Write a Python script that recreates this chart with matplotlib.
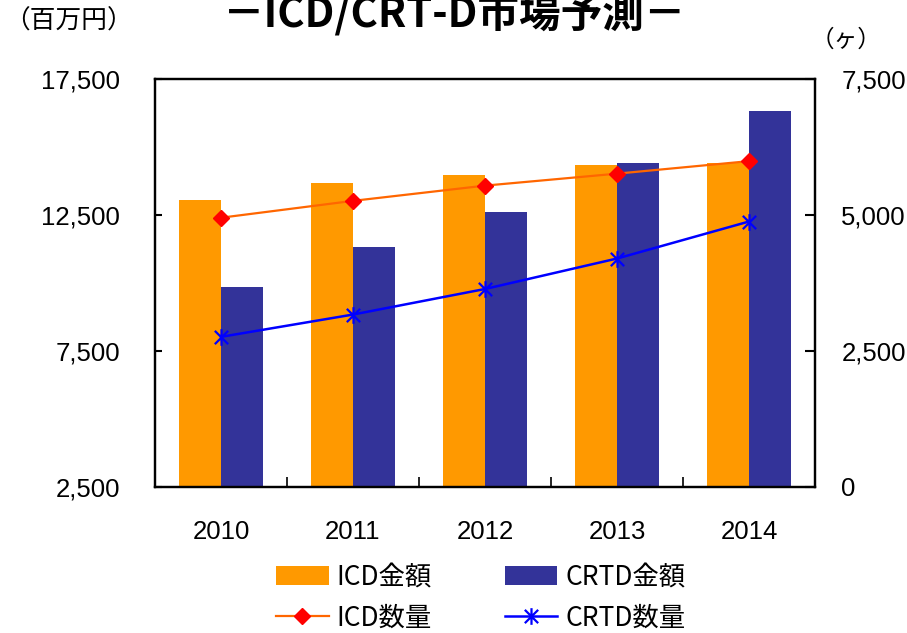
import matplotlib
matplotlib.use("Agg")
import matplotlib.pyplot as plt
import numpy as np
from matplotlib.path import Path
from matplotlib.patches import Patch
from matplotlib.lines import Line2D
from matplotlib.ticker import FuncFormatter, FixedLocator

years = ["2010", "2011", "2012", "2013", "2014"]
icd_amount = [13050, 13680, 13970, 14340, 14410]      # 百万円
crtd_amount = [9850, 11320, 12610, 14410, 16340]      # 百万円
icd_count = [4950, 5260, 5540, 5760, 5990]            # ヶ
crtd_count = [2760, 3170, 3640, 4200, 4880]           # ヶ
left_ticks = [2500, 7500, 12500, 17500]
right_ticks = [0, 2500, 5000, 7500]

JP = ["Noto Sans CJK JP", "DejaVu Sans"]
NUM = ["Liberation Sans", "DejaVu Sans"]

W, H = 907, 633
fig = plt.figure(figsize=(W / 100, H / 100), dpi=100)
ax = fig.add_axes([155 / W, 1 - 487 / H, (815 - 155) / W, (487 - 79) / H])

x = np.arange(len(years))
bw = 0.32
ax.bar(x - bw / 2, icd_amount, width=bw, color="#FF9900", zorder=2)
ax.bar(x + bw / 2, crtd_amount, width=bw, color="#333399", zorder=2)
ax.set_ylim(2500, 17500)
ax.set_xlim(-0.5, len(years) - 0.5)
ax.yaxis.set_major_locator(FixedLocator(left_ticks))
ax.yaxis.set_major_formatter(FuncFormatter(lambda v, p: f"{int(v):,}"))
ax.set_xticks(x)
ax.set_xticklabels(years, fontfamily=NUM, fontsize=18.5)
ax.set_xticks(np.arange(0.5, len(years) - 0.5, 1), minor=True)
ax.tick_params(axis="x", which="major", length=0, pad=24)
ax.tick_params(axis="x", which="minor", direction="in", length=7, width=1.2)
ax.tick_params(axis="y", direction="in", length=5, width=1.5, pad=25, labelsize=18.5)
for lab in ax.get_yticklabels():
    lab.set_fontfamily(NUM)

ax2 = ax.twinx()
ax2.set_ylim(0, 7500)
ax2.yaxis.set_major_locator(FixedLocator(right_ticks))
ax2.yaxis.set_major_formatter(FuncFormatter(lambda v, p: f"{int(v):,}"))
ax2.tick_params(axis="y", direction="in", length=7, width=1.5, pad=19, labelsize=18.5)
for lab in ax2.get_yticklabels():
    lab.set_fontfamily(NUM)

star = Path([(-1, -1), (1, 1), (-1, 1), (1, -1), (0, -1.25), (0, 1.25)],
            [Path.MOVETO, Path.LINETO, Path.MOVETO, Path.LINETO, Path.MOVETO, Path.LINETO])

ax2.plot(x, icd_count, color="#FF6600", lw=1.6, marker="D", markersize=8,
         markerfacecolor="#FF0000", markeredgecolor="#FF0000", zorder=3)
ax2.plot(x, crtd_count, color="#0000FF", lw=1.8, marker=star, markersize=12,
         markeredgewidth=1.6, markeredgecolor="#0000FF", zorder=3)

for a in (ax, ax2):
    for s in a.spines.values():
        s.set_linewidth(1.6)
        s.set_color("black")

fig.text(455 / W, 1 - 27 / H, "－ICD/CRT-D市場予測－", ha="center", va="baseline",
         fontsize=30, fontweight="bold", family=JP)
fig.text(4 / W, 1 - 22 / H, "（百万円）", ha="left", va="center", fontsize=18.5, family=JP)
fig.text(846 / W, 1 - 40 / H, "（ヶ）", ha="center", va="center", fontsize=17, family=JP)

handles = [
    Patch(facecolor="#FF9900", edgecolor="none"),
    Line2D([0], [0], color="#FF6600", lw=1.6, marker="D", markersize=8,
           markerfacecolor="#FF0000", markeredgecolor="#FF0000"),
    Patch(facecolor="#333399", edgecolor="none"),
    Line2D([0], [0], color="#0000FF", lw=1.8, marker=star, markersize=12,
           markeredgewidth=1.6, markeredgecolor="#0000FF"),
]
labels = ["ICD金額", "ICD数量", "CRTD金額", "CRTD数量"]
leg = fig.legend(handles, labels, ncol=2, loc="upper left",
                 bbox_to_anchor=(276 / W, 1 - 564 / H), frameon=False,
                 borderpad=0, borderaxespad=0, handlelength=2.0, handleheight=0.75,
                 handletextpad=0.3, columnspacing=2.75, labelspacing=0.52,
                 prop={"family": JP, "size": 19})

fig.savefig("out.png", dpi=100)
